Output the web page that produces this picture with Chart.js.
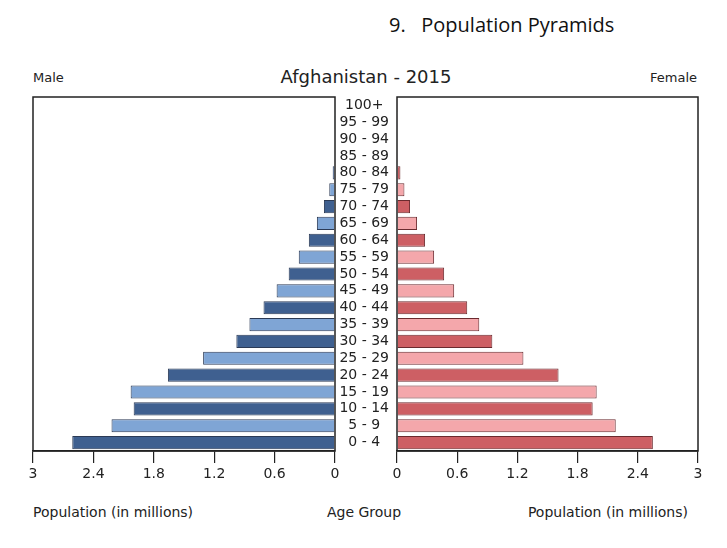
<!DOCTYPE html>
<html>
<head>
<meta charset="utf-8">
<script src="https://cdn.jsdelivr.net/npm/chart.js@4.4.1/dist/chart.umd.min.js"></script>
<style>
  body { margin: 0; background: #fff; width: 727px; height: 548px; position: relative; overflow: hidden; }
  canvas { position: absolute; top: 0; }
  .txt { position: absolute; font-family: "DejaVu Sans", sans-serif; color: #222; white-space: nowrap; }
</style>
</head>
<body>
<div class="txt" style="left:389px; top:11px; font-family:'Open Sans',sans-serif; font-size:20px; color:#111;">9.&nbsp;&nbsp; Population Pyramids</div>
<div class="txt" style="left:33px; top:70px; font-size:13px;">Male</div>
<div class="txt" style="left:0; width:732px; text-align:center; top:66px; font-size:18px;">Afghanistan - 2015</div>
<div class="txt" style="right:30px; top:70px; font-size:13px;">Female</div>
<div class="txt" style="left:33px; top:504px; font-size:14px;">Population (in millions)</div>
<div class="txt" style="left:0; width:728px; text-align:center; top:504px; font-size:14px;">Age Group</div>
<div class="txt" style="right:39px; top:504px; font-size:14px;">Population (in millions)</div>

<canvas id="male" style="left:0;"></canvas>
<canvas id="female" style="left:335px;"></canvas>

<script>
// categories top to bottom
const ageGroups = ['100+', '95 - 99', '90 - 94', '85 - 89', '80 - 84', '75 - 79', '70 - 74',
    '65 - 69', '60 - 64', '55 - 59', '50 - 54', '45 - 49', '40 - 44', '35 - 39',
    '30 - 34', '25 - 29', '20 - 24', '15 - 19', '10 - 14', '5 - 9', '0 - 4'];

// population in millions, same order as ageGroups
const maleValues = [0.004, 0.003, 0.006, 0.008, 0.023, 0.057, 0.11, 0.18, 0.26, 0.36, 0.46,
    0.58, 0.71, 0.85, 0.98, 1.31, 1.66, 2.03, 2.00, 2.22, 2.61];
const femaleValues = [0.003, 0.004, 0.005, 0.008, 0.034, 0.074, 0.13, 0.20, 0.28, 0.37, 0.47,
    0.57, 0.70, 0.82, 0.95, 1.26, 1.61, 1.99, 1.95, 2.18, 2.55];

const tickValues = [0, 0.6, 1.2, 1.8, 2.4, 3];
const tickLabels = ['0', '0.6', '1.2', '1.8', '2.4', '3'];

// alternating shades, 0-4 dark
function shades(dark, light) {
    return ageGroups.map((a, i) => ((ageGroups.length - 1 - i) % 2 == 0) ? dark : light);
}

// draw box round the plot area
const frame = {
    id: 'frame',
    afterDatasetsDraw(chart) {
        const a = chart.chartArea, c = chart.ctx;
        c.save();
        c.strokeStyle = '#222';
        c.lineWidth = 1.5;
        c.strokeRect(a.left, a.top, a.right - a.left, a.bottom - a.top);
        c.restore();
    }
};

function xScale(reverse) {
    return {
        type: 'linear',
        min: 0,
        max: 3,
        reverse: reverse,
        afterBuildTicks: s => { s.ticks = tickValues.map(v => ({ value: v })); },
        afterFit: s => { s.height = 97; },
        grid: { drawOnChartArea: false, drawTicks: true, tickLength: 12, color: '#222', lineWidth: 1.2 },
        border: { display: true, color: '#222', width: 1.5 },
        ticks: {
            color: '#222',
            font: { family: 'DejaVu Sans', size: 14 },
            padding: 3,
            maxRotation: 0,
            autoSkip: false,
            callback: (v, i) => tickLabels[i]
        }
    };
}

Chart.defaults.animation = false;
Chart.defaults.responsive = false;

const maleCanvas = document.getElementById('male');
maleCanvas.width = 366; maleCanvas.height = 548;
new Chart(maleCanvas.getContext('2d'), {
    type: 'bar',
    data: {
        labels: ageGroups,
        datasets: [{
            label: 'Male',
            data: maleValues,
            backgroundColor: shades('#3f6090', '#7fa5d5'),
            borderColor: '#2b3a55',
            borderWidth: 1,
            barPercentage: 0.78,
            categoryPercentage: 1
        }]
    },
    options: {
        indexAxis: 'y',
        devicePixelRatio: 1,
        layout: { padding: { top: 97, left: 33, right: 31, bottom: 0 } },
        plugins: { legend: { display: false }, tooltip: { enabled: false } },
        scales: {
            x: xScale(true),
            y: { display: false }
        }
    },
    plugins: [frame]
});

const femaleCanvas = document.getElementById('female');
femaleCanvas.width = 392; femaleCanvas.height = 548;
new Chart(femaleCanvas.getContext('2d'), {
    type: 'bar',
    data: {
        labels: ageGroups,
        datasets: [{
            label: 'Female',
            data: femaleValues,
            backgroundColor: shades('#cd5f64', '#f4a7ab'),
            borderColor: '#6a2a2e',
            borderWidth: 1,
            barPercentage: 0.78,
            categoryPercentage: 1
        }]
    },
    options: {
        indexAxis: 'y',
        devicePixelRatio: 1,
        layout: { padding: { top: 97, left: 0, right: 29, bottom: 0 } },
        plugins: { legend: { display: false }, tooltip: { enabled: false } },
        scales: {
            x: xScale(false),
            y: {
                afterFit: s => { s.width = 62; },
                grid: { display: false },
                border: { display: false },
                ticks: {
                    crossAlign: 'center',
                    padding: 0,
                    autoSkip: false,
                    color: '#222',
                    font: { family: 'DejaVu Sans', size: 14 }
                }
            }
        }
    },
    plugins: [frame]
});
</script>
</body>
</html>
